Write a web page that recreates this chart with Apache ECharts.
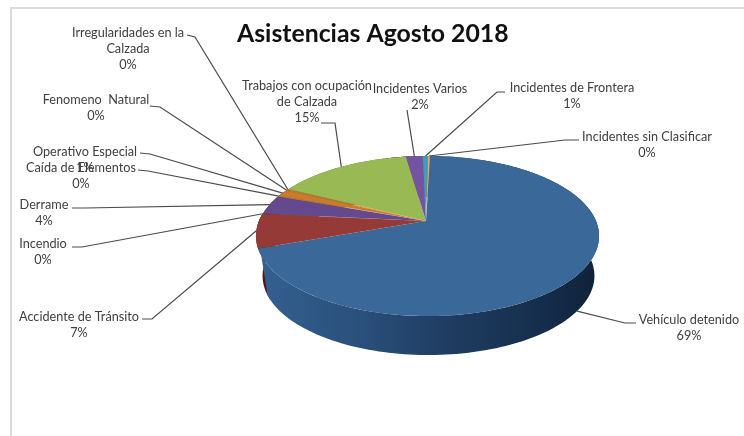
<!DOCTYPE html>
<html><head><meta charset="utf-8">
<style>html,body{margin:0;padding:0;background:#fff}#c{width:744px;height:436px}</style>
<script src="https://cdn.jsdelivr.net/npm/echarts@6/dist/echarts.min.js"></script>
</head><body><div id="c"></div>
<script>
const categories = ['Vehículo detenido','Accidente de Tránsito','Incendio','Derrame','Caída de Elementos','Operativo Especial','Fenomeno  Natural','Irregularidades en la\nCalzada','Trabajos con ocupación\nde Calzada','Incidentes Varios','Incidentes de Frontera','Incidentes sin Clasificar'];
const shares = [69.3,6.9,0.1,3.9,0.2,1.3,0.2,0.2,15.2,1.9,0.6,0.2];
const topColors = ['#3a6899','#963a38','#8a3a3a','#64498f','#c9772f','#cc7a2e','#d07c2e','#c9772f','#98b954','#7453a0','#3c9fbd','#f0a866'];
const wallColors = ['#2a4d78','#4f1715','#4f1715','#3a2a55','#7a4518','#7a4518','#7a4518','#7a4518','#5c7330','#432f60','#215f72','#8f6238'];

// Layout of the 3D projection and of the label boxes
const P = {apexX:426, ax:427.5, ay:221, A:77.2, B:168.5, k:0.1875, start:1,
           bx:428.5, by:261, A2:76.4, B2:163};
const labelBox = [[689,328],[79,325],[43,252],[44,213],[81,176],[85,160],[96,108],[128,49],[307,102],[420,97],[572,96],[647,145]];
const leaderStart = [[636,323,625,323],[142,319,152,319],[72,247,82,247],[72,208,85,208],[138,170,148,171],[140,153,150,154],[150,106,160,107],[187,35,195,37],[321,123,335,123],[407,110,407,110],[505,92,497,92],[579,140,565,140]];
const bottomLeader = [true,false,false,false,false,false,false,false,false,false,false,false];

const total = shares.reduce((a,b)=>a+b,0);
const cumul = []; shares.reduce((a,b,i)=>{cumul[i]=a;return a+b;},0);
const deg = i => P.start + cumul[i]/total*360;
function rim(t, ax, ay, A, B){
  const r=t*Math.PI/180, s=Math.sin(r), c=Math.cos(r), d=1+P.k*c;
  return [ax+B*s/d, ay-A*c/d];
}
const topPt = t => rim(t,P.ax,P.ay,P.A,P.B);
const botPt = t => rim(t,P.bx,P.by,P.A2,P.B2);
function arc(fn,t0,t1){
  const n=Math.max(2,Math.ceil(Math.abs(t1-t0)/1.5)), o=[];
  for(let j=0;j<=n;j++) o.push(fn(t0+(t1-t0)*j/n));
  return o;
}
const seriesData = shares.map((v,i)=>[v,i]);

const wallGrad = {type:'linear',global:true,x:262,y:0,x2:596,y2:0,colorStops:[
  {offset:0,color:'#33608f'},{offset:0.3,color:'#2a4f7b'},{offset:0.55,color:'#1f3d61'},{offset:0.85,color:'#152d4b'},{offset:1,color:'#0f2238'}]};

const chart = echarts.init(document.getElementById('c'),null,{renderer:'canvas'});
chart.setOption({
  animation:false,
  backgroundColor:'#fff',
  title:{text:'Asistencias Agosto 2018',left:237,top:22,padding:0,
    textStyle:{fontFamily:'Lato',fontWeight:'bold',fontSize:24.8,color:'#111'}},
  graphic:[
    {type:'line',z:0,shape:{x1:11,y1:8,x2:11,y2:436},style:{stroke:'#d9d9d9',lineWidth:2}},
    {type:'line',z:0,shape:{x1:10,y1:8,x2:744,y2:8},style:{stroke:'#dcdcdc',lineWidth:2}}
  ],
  series:[
    {type:'custom',name:'walls',coordinateSystem:'none',z:1,data:seriesData,silent:true,
     renderItem(p,api){
       const i=api.value(1), t0=deg(i), t1=i+1<shares.length?deg(i+1):P.start+360;
       if(i===0){
         const a=arc(topPt,t0,t1-5), b=arc(botPt,t0,t1-5).reverse();
         return {type:'polygon',z2:10,shape:{points:a.concat(b)},style:{fill:wallGrad}};
       }
       const a=arc(topPt,t0-8,t1), b=arc(botPt,t0-8,t1).reverse();
       return {type:'polygon',z2:1,shape:{points:a.concat(b)},style:{fill:wallColors[i]}};
     }},
    {type:'custom',name:'tops',coordinateSystem:'none',z:2,data:seriesData,silent:true,
     renderItem(p,api){
       const i=api.value(1), t0=deg(i), t1=i+1<shares.length?deg(i+1):P.start+360;
       return {type:'polygon',shape:{points:[[P.apexX,P.ay]].concat(arc(topPt,t0,t1))},style:{fill:topColors[i]}};
     }},
    {type:'custom',name:'labels',coordinateSystem:'none',z:3,data:seriesData,silent:true,
     renderItem(p,api){
       const i=api.value(1), v=api.value(0), t0=deg(i), t1=i+1<shares.length?deg(i+1):P.start+360, m=(t0+t1)/2;
       const end=bottomLeader[i]?botPt(m):topPt(m), L=leaderStart[i];
       return {type:'group',children:[
         {type:'polyline',shape:{points:[[L[0],L[1]],[L[2],L[3]],end]},style:{stroke:'#4a4a4a',lineWidth:1.2,fill:null}},
         {type:'text',x:labelBox[i][0],y:labelBox[i][1],style:{
           text:categories[i]+'\n'+Math.round(v/total*100)+'%',
           align:'center',verticalAlign:'middle',fontFamily:'Lato',fontSize:12.7,lineHeight:16,fill:'#404040'}}
       ]};
     }}
  ]
});
</script></body></html>
